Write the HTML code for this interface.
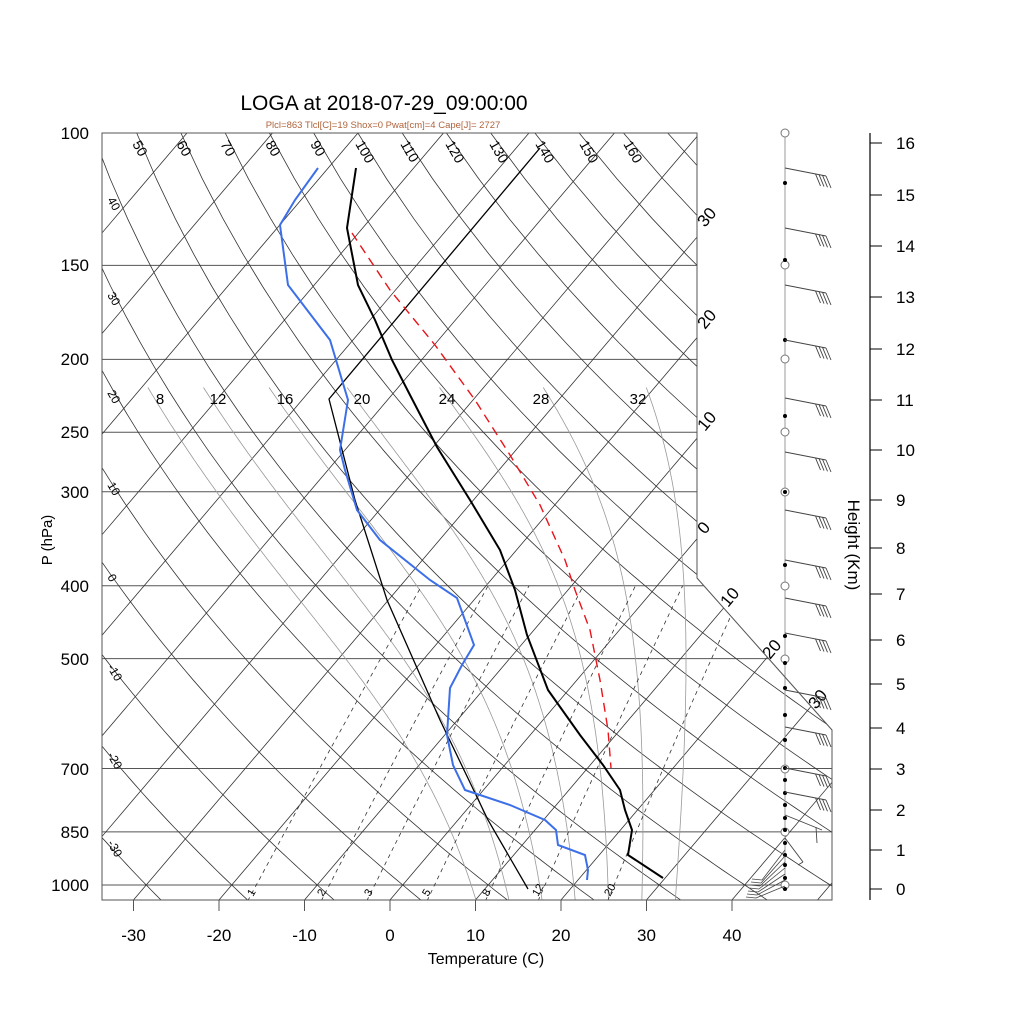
<!DOCTYPE html>
<html><head><meta charset="utf-8"><style>
html,body{margin:0;padding:0;background:#fff;overflow:hidden;}
svg{display:block;font-family:"Liberation Sans",sans-serif;}
</style></head><body>
<svg id="s" width="1024" height="1024" viewBox="0 0 1024 1024" xmlns="http://www.w3.org/2000/svg">
<defs><clipPath id="c"><polygon points="102,133 697,133 697,578 832,730 832,900 102,900"/></clipPath></defs>
<rect width="1024" height="1024" fill="#fff"/>
<g id="bg" clip-path="url(#c)"></g>
<g id="fg"></g>
<polygon points="102,133 697,133 697,578 832,730 832,900 102,900" fill="none" stroke="#555" stroke-width="1"/>
<text x="384" y="110" font-size="21" text-anchor="middle">LOGA at 2018-07-29_09:00:00</text>
<text x="383" y="128" font-size="9.5" text-anchor="middle" fill="#b0643c">Plcl=863 Tlcl[C]=19 Shox=0 Pwat[cm]=4 Cape[J]= 2727</text>
<text x="486" y="964" font-size="16" text-anchor="middle">Temperature (C)</text>
<text transform="translate(52,540) rotate(-90)" font-size="15" text-anchor="middle">P (hPa)</text>
<text transform="translate(848,545) rotate(90)" font-size="17" text-anchor="middle">Height (Km)</text>
<line x1="870" y1="133" x2="870" y2="900" stroke="#000" stroke-width="1.2"/>
</svg>
<script>
(function(){
var NS="http://www.w3.org/2000/svg";
var bg=document.getElementById('bg'),fg=document.getElementById('fg');
function el(par,tag,a,txt){var e=document.createElementNS(NS,tag);for(var k in a)e.setAttribute(k,a[k]);if(txt!==undefined)e.textContent=String(txt);par.appendChild(e);return e;}
function Y(p){return 885+326.6*Math.log(p/1000);}
function X(T,p){return 390+8.55*T+0.85*(900-Y(p));}
function pl(par,pts,st){var a={points:pts.map(function(q){return q[0].toFixed(1)+','+q[1].toFixed(1)}).join(' '),fill:'none'};for(var k in st)a[k]=st[k];el(par,'polyline',a);}
[150,200,250,300,400,500,700,850,1000].forEach(function(p){var y=Y(p);el(bg,'line',{x1:102,y1:y,x2:840,y2:y,stroke:'#555','stroke-width':1});});
for(var T=-120;T<=50;T+=10){pl(bg,[[X(T,1050),Y(1050)],[X(T,90),Y(90)]],{stroke:'#333','stroke-width':0.8});}
for(var th=-40;th<=210;th+=10){var pts=[];for(var p=1060;p>=95;p-=15){var Tk=(th+273.15)*Math.pow(p/1000,0.286)-273.15;pts.push([X(Tk,p),Y(p)]);}pl(bg,pts,{stroke:'#333','stroke-width':0.8});}
function dTdp(T,p){var es=6.112*Math.exp(17.67*(T-273.15)/(T-29.65));var rs=0.622*es/(p-es);return ((287*T+2.5e6*rs)/p)/(1004+2.5e6*2.5e6*rs*0.622/(287*T*T));}
[8,12,16,20,24,28,32].forEach(function(tw){var pts=[];
 var T0=tw+273.15;for(var pp=1000;pp<1050;pp+=2){T0+=dTdp(T0,pp)*2;}
 var T=T0;for(var p=1050;p>=218;p-=2){pts.push([X(T-273.15,p),Y(p)]);T-=dTdp(T,p)*2;}
 pl(bg,pts,{stroke:'#999','stroke-width':0.8});});
[1,2,3,5,8,12,20].forEach(function(w){var pts=[];for(var p=1050;p>=400;p-=10){var e=w*p/(622+w);var l=Math.log(e/6.112);var T=243.5*l/(17.67-l);pts.push([X(T,p),Y(p)]);}pl(bg,pts,{stroke:'#333','stroke-width':0.8,'stroke-dasharray':'4,4'});});
var topl=[[50,137],[60,181],[70,225],[80,270],[90,315],[100,360],[110,405],[120,450],[130,494],[140,540],[150,584],[160,628]];
topl.forEach(function(a){el(fg,'text',{transform:'translate('+(a[1]-5)+',144) rotate(60)','font-size':14},a[0]);});
[[40,205],[30,300],[20,398],[10,490],[0,582],[-10,672],[-20,760],[-30,848]].forEach(function(a){el(fg,'text',{transform:'translate(107,'+(a[1]-5)+') rotate(60)','font-size':12},a[0]);});
[[30,218],[20,320],[10,422],[0,525]].forEach(function(a){el(fg,'text',{transform:'translate(705,'+(a[1]+10)+') rotate(-50)','font-size':17},a[0]);});
[[10,738,608],[20,780,660],[30,826,710]].forEach(function(a){el(fg,'text',{transform:'translate('+(a[1]-10)+','+a[2]+') rotate(-50)','font-size':17},a[0]);});
[[8,160],[12,218],[16,285],[20,362],[24,447],[28,541],[32,638]].forEach(function(a){el(fg,'text',{x:a[1],y:404,'font-size':15,'text-anchor':'middle'},a[0]);});
[[1,255],[2,325],[3,372],[5,430],[8,490],[12,540],[20,612]].forEach(function(a){el(fg,'text',{transform:'translate('+(a[1]-2)+',897) rotate(-60)','font-size':11},a[0]);});
[[100,133],[150,265],[200,359],[250,432],[300,492],[400,586],[500,659],[700,769],[850,832],[1000,885]].forEach(function(a){el(fg,'text',{x:89,y:a[1]+6,'font-size':17,'text-anchor':'end'},a[0]);});
[-30,-20,-10,0,10,20,30,40].forEach(function(t){var x=390+8.55*t;el(fg,'line',{x1:x,y1:900,x2:x,y2:911,stroke:'#555'});el(fg,'text',{x:x,y:941,'font-size':17,'text-anchor':'middle'},t);});
var hy=[889,850,810,769,728,684,640,594,548,500,450,400,349,297,246,195,143];
for(var k=0;k<=16;k++){var y=hy[k];el(fg,'line',{x1:870,y1:y,x2:882,y2:y,stroke:'#000'});el(fg,'text',{x:896,y:y+6,'font-size':17},k);}
function poly(pts,st){pl(fg,pts,st);}
poly([[528,889],[488,820],[440,720],[387,600],[355,500],[329,399],[540,148]],{stroke:'#000','stroke-width':1.3});
poly([[356,168],[347,228],[358,285],[375,320],[392,360],[410,395],[437,447],[470,500],[500,550],[515,590],[527,635],[548,690],[580,735],[603,765],[620,790],[625,810],[632,830],[628,855],[663,878]],{stroke:'#000','stroke-width':2});
poly([[352,233],[390,290],[435,345],[475,400],[510,455],[540,505],[565,560],[575,590],[590,630],[600,680],[608,730],[611,768]],{stroke:'#e8141a','stroke-width':1.4,'stroke-dasharray':'9,6'});
poly([[318,168],[295,200],[280,225],[288,285],[330,340],[348,400],[340,450],[345,470],[357,510],[380,540],[430,580],[457,598],[474,645],[462,665],[450,688],[447,735],[453,765],[465,790],[510,805],[545,820],[556,830],[558,845],[585,855],[588,870],[587,880]],{stroke:'#3c6fe8','stroke-width':2});
el(fg,'line',{x1:785,y1:133,x2:785,y2:890,stroke:'#999','stroke-width':1});
[133,265,359,432,492,586,659,769,832,885].forEach(function(y){el(fg,'circle',{cx:785,cy:y,r:4,fill:'#fff',stroke:'#777','stroke-width':1});});
[183,260,340,416,492,565,636,663,688,715,740,768,780,793,805,818,830,843,855,865,878,889].forEach(function(y){el(fg,'circle',{cx:785,cy:y,r:2,fill:'#000'});});
[168,228,285,340,398,452,510,560,598,633,690,727,768,792].forEach(function(y){var ex=826,ey=y+8;el(fg,'line',{x1:785,y1:y,x2:ex,y2:ey,stroke:'#444','stroke-width':0.9});
 for(var j=0;j<4;j++){var bx=ex-j*3.5,by=ey-j*0.7;el(fg,'line',{x1:bx,y1:by,x2:bx+5,y2:by+12,stroke:'#444','stroke-width':0.9});}});
el(fg,'line',{x1:785,y1:815,x2:822,y2:830,stroke:'#444','stroke-width':0.9});el(fg,'line',{x1:816,y1:827,x2:817,y2:843,stroke:'#444','stroke-width':0.9});
el(fg,'line',{x1:785,y1:838,x2:803,y2:862,stroke:'#444','stroke-width':0.9});el(fg,'line',{x1:803,y1:862,x2:798,y2:865,stroke:'#444','stroke-width':0.9});
for(var i=0;i<7;i++){el(fg,'line',{x1:785,y1:850+i*6,x2:762-i,y2:880+i*3,stroke:'#444','stroke-width':0.8});el(fg,'line',{x1:762-i,y1:880+i*3,x2:752-i,y2:879+i*3,stroke:'#444','stroke-width':0.8});}
})();
</script>
</body></html>
